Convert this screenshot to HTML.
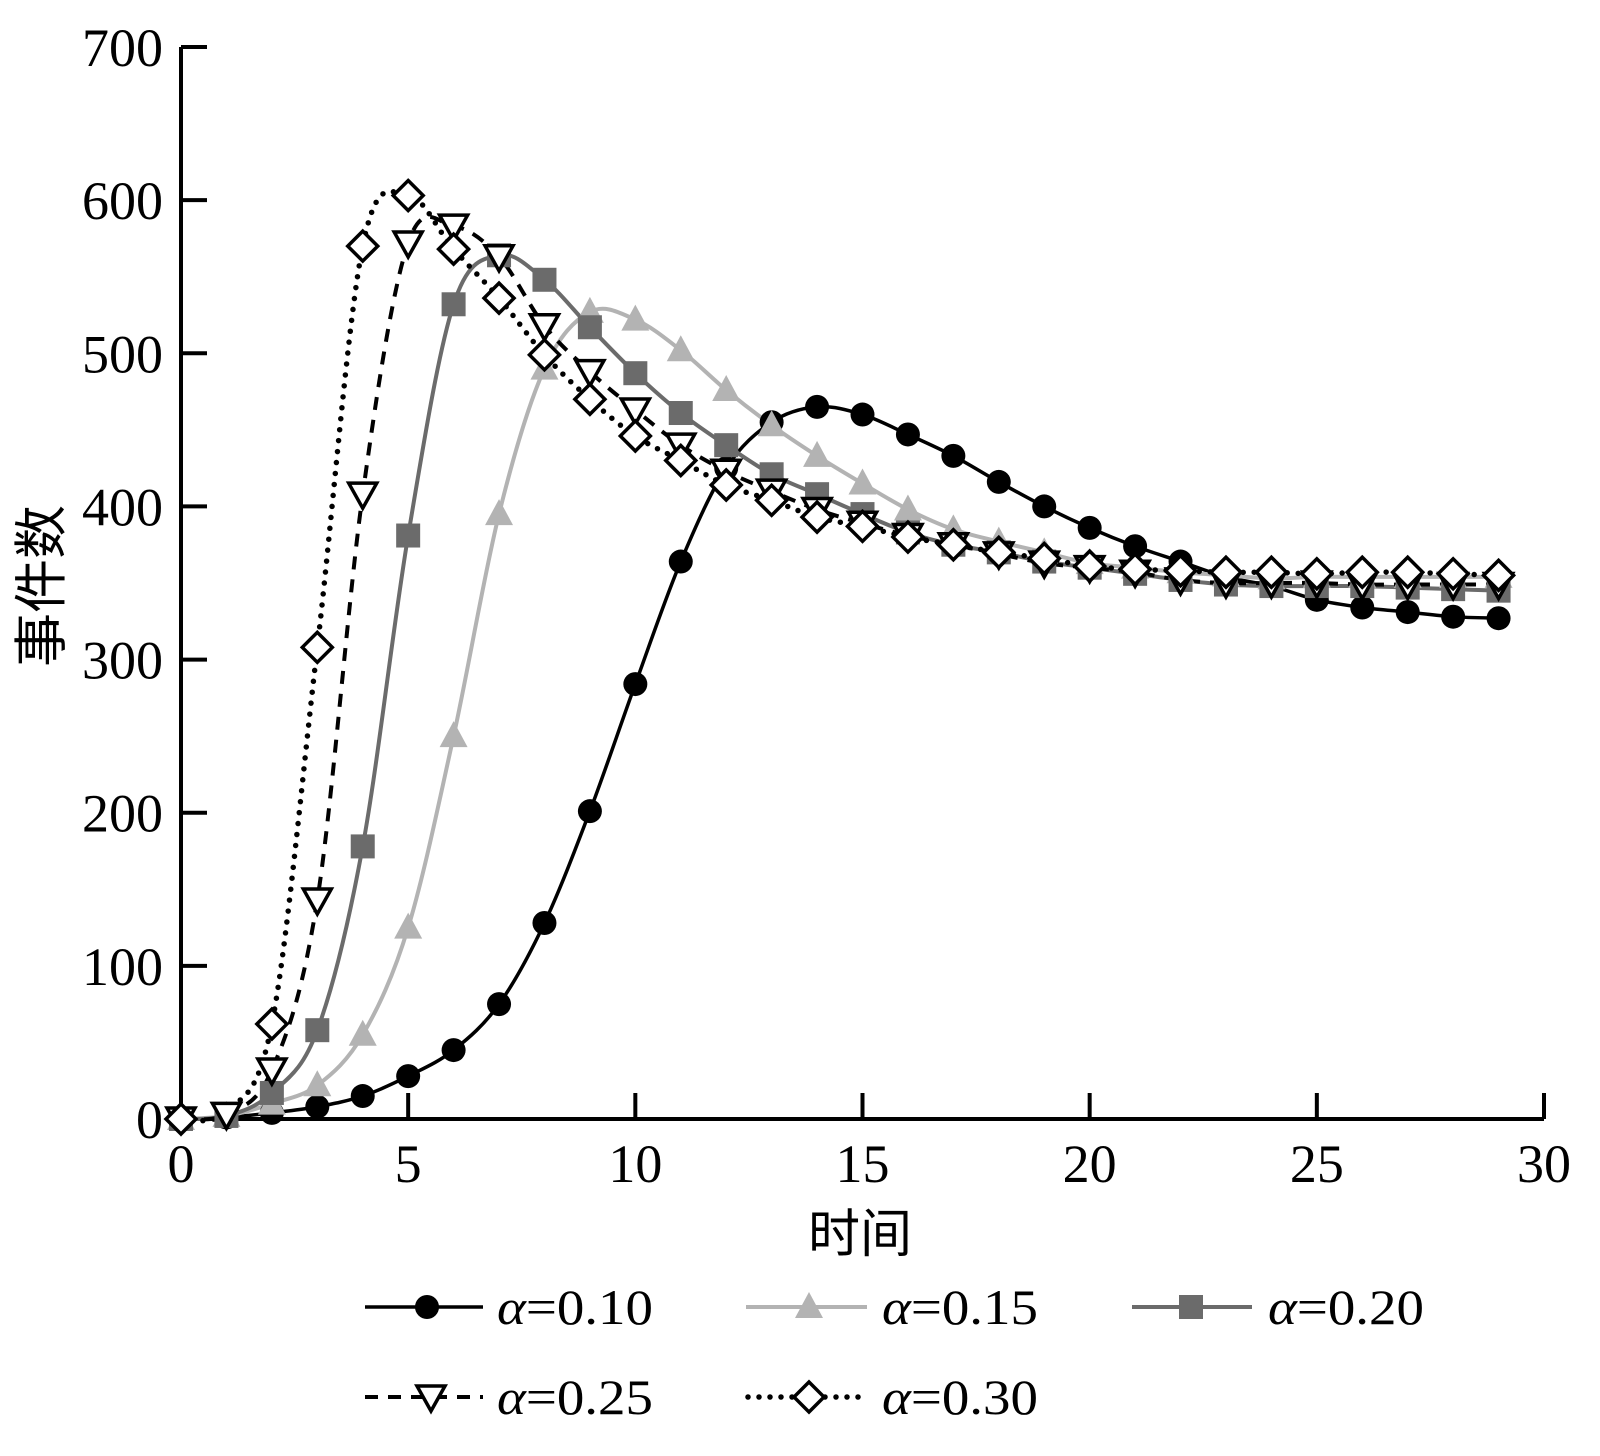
<!DOCTYPE html>
<html><head><meta charset="utf-8"><style>
html,body{margin:0;padding:0;background:#fff}
svg{display:block}
text{font-family:"Liberation Serif","Times New Roman",serif;fill:#000}
</style></head><body>
<svg id="s" width="1600" height="1456" viewBox="0 0 1600 1456" xmlns="http://www.w3.org/2000/svg"></svg>
<script>
const S=document.getElementById('s');
const X0=181,X1=1544,Y0=1119,YT=47;
const px=t=>X0+(X1-X0)*t/30, py=v=>Y0-(Y0-YT)*v/700;
const FF='font-family="Liberation Serif, serif"';
let h='';
h+=`<path d="M${X0} ${YT} V${Y0} H${X1}" fill="none" stroke="#000" stroke-width="4"/>`;
for(let v=0;v<=700;v+=100){const y=py(v);h+=`<line x1="${X0}" y1="${y}" x2="${X0+26}" y2="${y}" stroke="#000" stroke-width="4"/>`;
h+=`<text ${FF} x="${X0-18}" y="${y+19}" font-size="54" text-anchor="end">${v}</text>`;}
for(let t=0;t<=30;t+=5){const x=px(t);h+=`<line x1="${x}" y1="${Y0}" x2="${x}" y2="${Y0-26}" stroke="#000" stroke-width="4"/>`;
h+=`<text ${FF} x="${x}" y="${Y0+63}" font-size="54" text-anchor="middle">${t}</text>`;}
h+=`<text x="860" y="1252" font-size="52" text-anchor="middle" font-family="Noto Serif CJK SC, serif">时间</text>`;
h+=`<text transform="translate(60 586) rotate(-90)" font-size="54" text-anchor="middle" font-family="Noto Serif CJK SC, serif">事件数</text>`;
const D={
a:[0,1,4,8,15,28,45,75,128,201,284,364,425,455,465,460,447,433,416,400,386,374,364,354,348,339,334,331,328,327],
b:[0,2,10,22,55,125,250,395,490,527,522,502,476,453,433,415,398,385,377,370,363,360,357,355,353,354,354,354,354,354],
c:[0,2,17,58,178,381,532,564,548,517,487,461,440,421,408,395,383,375,370,364,360,356,352,349,348,348,348,347,346,345],
d:[0,3,32,143,408,572,583,563,518,488,463,440,423,410,398,389,381,375,369,363,360,357,352,350,350,350,349,349,349,349],
e:[0,5,62,308,570,603,568,536,499,470,446,430,414,404,393,387,380,375,370,366,361,359,358,357,357,356,357,357,356,355]};
function curve(arr){const P=arr.map((v,i)=>[px(i),py(v)]);let d=`M${P[0][0]} ${P[0][1]}`;
for(let i=0;i<P.length-1;i++){const p0=P[Math.max(0,i-1)],p1=P[i],p2=P[i+1],p3=P[Math.min(P.length-1,i+2)];
d+=` C${p1[0]+(p2[0]-p0[0])/6} ${p1[1]+(p2[1]-p0[1])/6} ${p2[0]-(p3[0]-p1[0])/6} ${p2[1]-(p3[1]-p1[1])/6} ${p2[0]} ${p2[1]}`;}return d;}
function mk(type,x,y){
 if(type==='a')return `<circle cx="${x}" cy="${y}" r="12" fill="#000"/>`;
 if(type==='b')return `<path d="M${x} ${y-15} L${x+14} ${y+11} L${x-14} ${y+11}Z" fill="#b3b3b3"/>`;
 if(type==='c')return `<rect x="${x-12}" y="${y-12}" width="24" height="24" fill="#6b6b6b"/>`;
 if(type==='d')return `<path d="M${x-14} ${y-11} L${x+14} ${y-11} L${x} ${y+14}Z" fill="#fff" stroke="#000" stroke-width="3.5"/>`;
 return `<path d="M${x} ${y-15} L${x+15} ${y} L${x} ${y+15} L${x-15} ${y}Z" fill="#fff" stroke="#000" stroke-width="3.5"/>`;}
const ST={a:['#000',3.5,'','butt'],b:['#b3b3b3',4,'','butt'],c:['#6b6b6b',4,'','butt'],d:['#000',4,'13 10','butt'],e:['#000',5.5,'0 11','round']};
for(const k of ['a','b','c','d','e']){const [c,w,da,cap]=ST[k];
h+=`<path d="${curve(D[k])}" fill="none" stroke="${c}" stroke-width="${w}" ${da?`stroke-dasharray="${da}"`:''} stroke-linecap="${cap}"/>`;}
for(const k of ['a','b','c','d','e']) D[k].forEach((v,i)=>{if(k==='e'&&i===1)return;h+=mk(k,px(i),py(v));});
const L=[['a',365,483,427,497,1307,'0.10'],['b',746,867,809,882,1307,'0.15'],['c',1132,1252,1191,1268,1307,'0.20'],['d',365,483,431,497,1397,'0.25'],['e',748,864,809,882,1397,'0.30']];
for(const [k,x1,x2,m,tx,y,lab] of L){const [c,w,da,cap]=ST[k];
h+=`<line x1="${x1}" y1="${y}" x2="${x2}" y2="${y}" stroke="${c}" stroke-width="${w}" ${da?`stroke-dasharray="${da}"`:''} stroke-linecap="${cap}"/>`;
h+=mk(k,m,y);
h+=`<text ${FF} x="${tx}" y="${y+17}" font-size="50" textLength="156" lengthAdjust="spacingAndGlyphs"><tspan font-style="italic">α</tspan>=${lab}</text>`;}
S.innerHTML=h;
</script>
</body></html>
